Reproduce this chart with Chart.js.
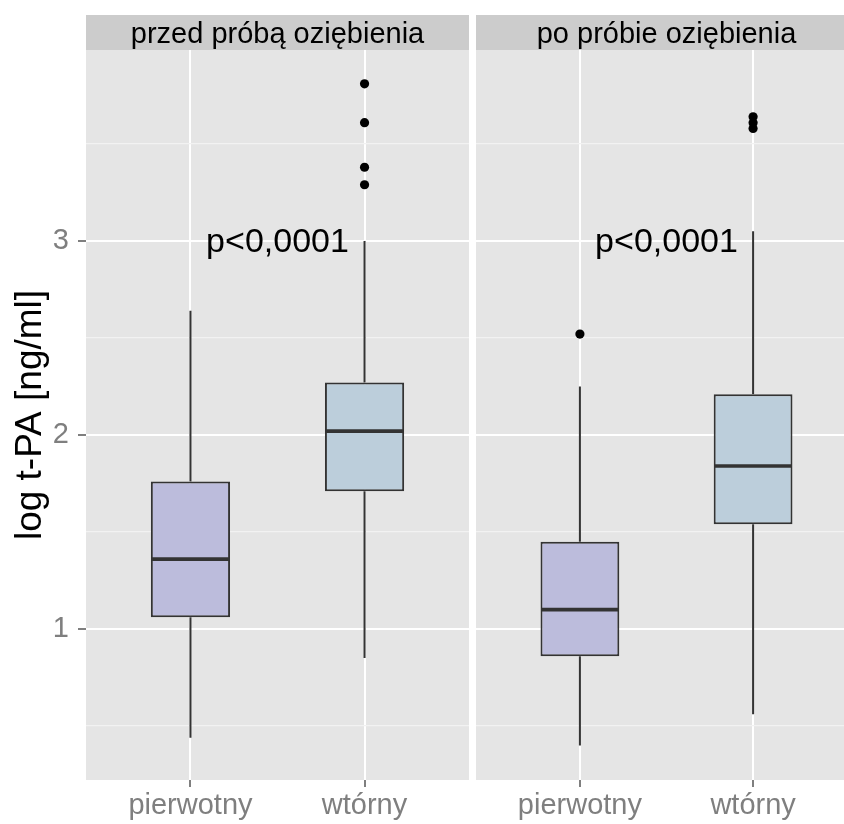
<!DOCTYPE html>
<html lang="pl">
<head>
<meta charset="utf-8">
<title>log t-PA</title>
<script src="https://cdn.jsdelivr.net/npm/chart.js@4.4.1/dist/chart.umd.min.js"></script>
<style>
	html, body { margin: 0; padding: 0; background: #ffffff; overflow: hidden; }
	#wrap { position: relative; width: 844px; height: 824px; overflow: hidden; }
	#wrap canvas { position: absolute; top: 0; }
	#chart-before { left: 0; }
	#chart-after { left: 476px; }
</style>
</head>
<body>
<div id="wrap">
	<canvas id="chart-before" width="469" height="824"></canvas>
	<canvas id="chart-after" width="381" height="824"></canvas>
</div>
<script>
var groups      = [ 'pierwotny', 'wtórny' ];
var panelTitles = [ 'przed próbą oziębienia', 'po próbie oziębienia' ];

// lower whisker, Q1, median, Q3, upper whisker (one row per group)
var statsBefore = [ [ 0.44, 1.06, 1.36, 1.76, 2.64 ], [ 0.85, 1.71, 2.02, 2.27, 3.00 ] ];
var statsAfter  = [ [ 0.40, 0.86, 1.10, 1.45, 2.25 ], [ 0.56, 1.54, 1.84, 2.21, 3.05 ] ];

var outliersBefore = [ [], [ 3.29, 3.38, 3.61, 3.81 ] ];
var outliersAfter  = [ [ 2.52 ], [ 3.58, 3.61, 3.64 ] ];

var pValueText = 'p<0,0001';
var yBreaks    = [ 0.5, 1, 1.5, 2, 2.5, 3, 3.5 ];
var yTitle     = 'log t-PA [ng/ml]';

var boxColours = [ '#BCBCDC', '#BCCEDB' ];
var FONT       = '"Liberation Sans", Arial, sans-serif';

Chart.defaults.font.family = FONT;

function isMajor(v) {
	return Math.abs( v - Math.round( v ) ) < 1e-9;
}

// keep the plot area exactly where the axes say, no label overhang padding
function noPadding(axis) {
	axis.paddingLeft   = 0;
	axis.paddingRight  = 0;
	axis.paddingTop    = 0;
	axis.paddingBottom = 0;
}

/**
 * Panel background, strip, whiskers, medians and the p-value label
 */
function boxPlotPlugin(title, stats) {
	return {
		id: 'boxPlot',
		beforeDraw: function (chart) {
			var a   = chart.chartArea;
			var ctx = chart.ctx;
			ctx.save();
			ctx.fillStyle = '#E5E5E5';
			ctx.fillRect( a.left, a.top, a.right - a.left, a.bottom - a.top );

			// facet strip
			ctx.fillStyle = '#CCCCCC';
			ctx.fillRect( a.left, a.top - 35, a.right - a.left, 35 );
			ctx.fillStyle    = '#000000';
			ctx.font         = '29px ' + FONT;
			ctx.textAlign    = 'center';
			ctx.textBaseline = 'middle';
			ctx.fillText( title, (a.left + a.right) / 2, a.top - 15 );
			ctx.restore();
		},
		beforeDatasetsDraw: function (chart) {
			var ctx  = chart.ctx;
			var yAx  = chart.scales.y;
			var bars = chart.getDatasetMeta( 0 ).data;
			ctx.save();
			ctx.strokeStyle = '#333333';
			ctx.lineWidth   = 2;
			bars.forEach(
				function (bar, i) {
					var s = stats[i];
					ctx.beginPath();
					ctx.moveTo( bar.x, yAx.getPixelForValue( s[0] ) );
					ctx.lineTo( bar.x, yAx.getPixelForValue( s[1] ) );
					ctx.moveTo( bar.x, yAx.getPixelForValue( s[3] ) );
					ctx.lineTo( bar.x, yAx.getPixelForValue( s[4] ) );
					ctx.stroke();
				}
			);
			ctx.restore();
		},
		afterDatasetsDraw: function (chart) {
			var ctx  = chart.ctx;
			var xAx  = chart.scales.x;
			var yAx  = chart.scales.y;
			var bars = chart.getDatasetMeta( 0 ).data;
			ctx.save();
			ctx.strokeStyle = '#333333';
			ctx.lineWidth   = 3.6;
			bars.forEach(
				function (bar, i) {
					var y = yAx.getPixelForValue( stats[i][2] );
					ctx.beginPath();
					ctx.moveTo( bar.x - bar.width / 2 + 1, y );
					ctx.lineTo( bar.x + bar.width / 2 - 1, y );
					ctx.stroke();
				}
			);

			ctx.fillStyle    = '#000000';
			ctx.font         = '34px ' + FONT;
			ctx.textAlign    = 'center';
			ctx.textBaseline = 'middle';
			ctx.fillText( pValueText, xAx.getPixelForValue( 1.5 ), yAx.getPixelForValue( 3 ) + 2 );
			ctx.restore();
		}
	};
}

function buildPanel(canvasId, title, stats, outliers, showYAxis) {
	var outlierPoints = [];
	outliers.forEach(
		function (list, i) {
			list.forEach(
				function (v) {
					outlierPoints.push( { x: i + 1, y: v } );
				}
			);
		}
	);

	return new Chart(
		document.getElementById( canvasId ),
		{
			type: 'bar',
			data: {
				datasets: [
					{
						type: 'bar',
						data: stats.map(
							function (s, i) {
								return { x: i + 1, y: [ s[1], s[3] ] };
							}
						),
						backgroundColor: boxColours,
						borderColor: '#333333',
						borderWidth: 2,
						borderSkipped: false,
						barPercentage: 0.455,
						categoryPercentage: 1
					},
					{
						type: 'scatter',
						data: outlierPoints,
						pointRadius: 4.6,
						backgroundColor: '#000000',
						borderWidth: 0
					}
				]
			},
			options: {
				responsive: false,
				animation: false,
				events: [],
				layout: {
					autoPadding: false,
					padding: { top: 50, right: 0, bottom: 0, left: 0 }
				},
				plugins: {
					legend: { display: false },
					tooltip: { enabled: false }
				},
				scales: {
					x: {
						type: 'linear',
						min: 0.4,
						max: 2.6,
						offset: false,
						afterBuildTicks: function (axis) {
							axis.ticks = groups.map(
								function (g, i) {
									return { value: i + 1 };
								}
							);
						},
						afterFit: function (axis) {
							axis.height = 44;
							noPadding( axis );
						},
						ticks: {
							autoSkip: false,
							maxRotation: 0,
							padding: 2,
							color: '#7F7F7F',
							font: { size: 29 },
							callback: function (value, index) {
								return groups[index];
							}
						},
						grid: {
							offset: false,
							color: '#FFFFFF',
							lineWidth: 2,
							tickColor: '#7F7F7F',
							tickLength: 7
						},
						border: { display: false }
					},
					y: {
						min: 0.2216,
						max: 3.9845,
						afterBuildTicks: function (axis) {
							axis.ticks = yBreaks.map(
								function (v) {
									return { value: v };
								}
							);
						},
						afterFit: function (axis) {
							axis.width = showYAxis ? 86 : 0;
							noPadding( axis );
						},
						ticks: {
							display: showYAxis,
							padding: 9,
							color: '#7F7F7F',
							font: { size: 29 },
							callback: function (value) {
								return isMajor( value ) ? String( value ) : '';
							}
						},
						grid: {
							drawTicks: showYAxis,
							tickLength: 8,
							color: function (c) {
								return c.tick && isMajor( c.tick.value ) ? '#FFFFFF' : '#F2F2F2';
							},
							lineWidth: function (c) {
								return c.tick && isMajor( c.tick.value ) ? 2 : 1.3;
							},
							tickColor: function (c) {
								return c.tick && isMajor( c.tick.value ) ? '#7F7F7F' : 'rgba(0,0,0,0)';
							}
						},
						border: { display: false },
						title: {
							display: showYAxis,
							text: yTitle,
							color: '#000000',
							font: { size: 37 },
							padding: { top: 9, bottom: 0 }
						}
					}
				}
			},
			plugins: [ boxPlotPlugin( title, stats ) ]
		}
	);
}

buildPanel( 'chart-before', panelTitles[0], statsBefore, outliersBefore, true );
buildPanel( 'chart-after', panelTitles[1], statsAfter, outliersAfter, false );
</script>
</body>
</html>
